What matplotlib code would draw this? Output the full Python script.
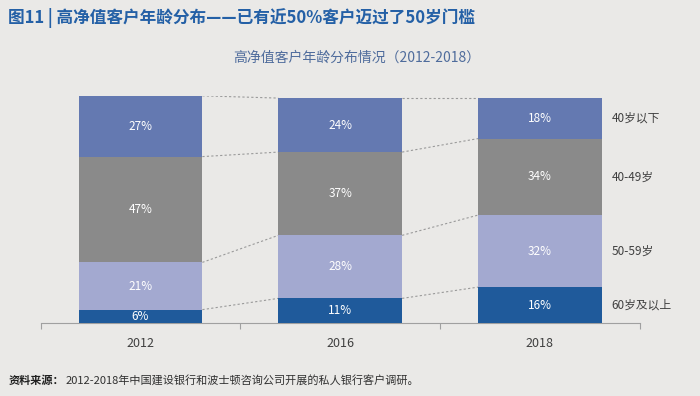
import numpy as np
import matplotlib.pyplot as plt

plt.rcParams['font.family'] = ['Noto Sans CJK SC', 'DejaVu Sans']

# data (percent, bottom to top)
years = ['2012', '2016', '2018']
groups = ['60岁及以上', '50-59岁', '40-49岁', '40岁以下']
v60 = [6, 11, 16]
v50 = [21, 28, 32]
v40 = [47, 37, 34]
vu40 = [27, 24, 18]
colors = ['#1F5A9B', '#A3A9D0', '#8A8A8A', '#6479B1']

bg = '#EAE9E7'
fig = plt.figure(figsize=(7, 3.96), dpi=100, facecolor=bg)
ax = fig.add_axes([0.058, 0.184, 0.856, 0.574], facecolor=bg)

series = [v60, v50, v40, vu40]
x = np.arange(len(years))
w = 0.62
bottom = np.zeros(len(years))
bounds = [bottom.copy()]
for vals, c in zip(series, colors):
    vals = np.array(vals, dtype=float)
    ax.bar(x, vals, w, bottom=bottom, color=c, zorder=3)
    for xi, b, v in zip(x, bottom, vals):
        ax.text(xi, b + v / 2, f'{int(v)}%', ha='center', va='center',
                color='white', fontsize=8.5, zorder=4)
    bottom = bottom + vals
    bounds.append(bottom.copy())

# dashed connectors between bars
for bnd in bounds[1:]:
    for i in range(len(years) - 1):
        ax.plot([x[i] + w / 2, x[i + 1] - w / 2], [bnd[i], bnd[i + 1]],
                color='#9A9A9A', lw=0.8, ls=(0, (2, 2)), zorder=2)

# right-side labels next to last bar
for vals, name, b in zip(series, groups, bounds[:-1]):
    ax.text(x[-1] + w / 2 + 0.05, b[-1] + vals[-1] / 2, name, ha='left',
            va='center', fontsize=8.5, color='#404040')

ax.set_xlim(-0.5, 2.5)
ax.set_ylim(0, 101)
ax.set_yticks([])
ax.set_xticks([-0.5, 0.5, 1.5, 2.5])
ax.set_xticklabels([])
ax.set_xticks(x, minor=True)
ax.set_xticklabels(years, minor=True, fontsize=9, color='#404040')
ax.tick_params(axis='x', which='major', length=4, color='#A0A0A0', direction='out')
ax.tick_params(axis='x', which='minor', length=0, pad=10)
for s in ['top', 'left', 'right']:
    ax.spines[s].set_visible(False)
ax.spines['bottom'].set_color('#A0A0A0')
ax.spines['bottom'].set_linewidth(0.8)

fig.text(0.012, 0.955, '图11 | 高净值客户年龄分布——已有近50%客户迈过了50岁门槛',
         fontsize=12, fontweight='bold', color='#2460A6', va='center')
fig.text(0.51, 0.855, '高净值客户年龄分布情况（2012-2018）', fontsize=10,
         color='#4F6C9C', ha='center', va='center')

# source line: bold prefix, then normal text right after it
src = fig.text(0.012, 0.04, '资料来源：', fontsize=8, fontweight='bold',
               color='#202020', va='center')
ax.annotate('2012-2018年中国建设银行和波士顿咨询公司开展的私人银行客户调研。',
            xy=(1, 0.5), xycoords=src, xytext=(1, 0), textcoords='offset points',
            fontsize=8, color='#303030', va='center', ha='left',
            annotation_clip=False)

fig.savefig('out.png', dpi=100, facecolor=bg)
